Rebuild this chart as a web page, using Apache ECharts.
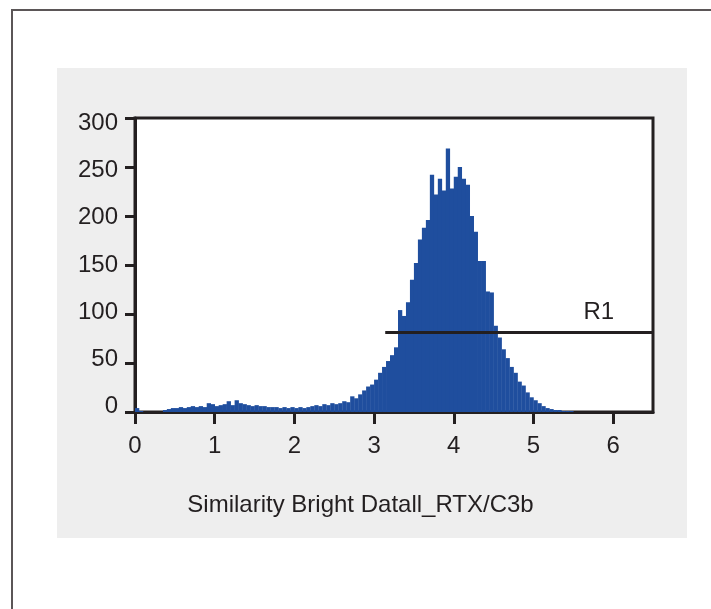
<!DOCTYPE html>
<html>
<head>
<meta charset="utf-8">
<title>Similarity Bright Datall_RTX/C3b histogram</title>
<script src="https://cdn.jsdelivr.net/npm/echarts@6/dist/echarts.min.js"></script>
<style>
  html, body { margin: 0; padding: 0; background: #ffffff; }
  #chart { width: 711px; height: 609px; }
</style>
</head>
<body>
<div id="chart"></div>
<script>
// Histogram bins: start of the first bin and width of every bin
const binStart = 0;
const binWidth = 0.05;
// Event counts per bin
const counts = [
  4, 1, 0, 0, 0, 0, 0, 2, 3, 4,
  4, 5, 4, 5, 6, 5, 6, 5, 9, 8,
  6, 7, 8, 11, 7, 12, 9, 8, 7, 6,
  7, 6, 6, 5, 5, 5, 4, 5, 4, 5,
  4, 5, 4, 5, 6, 7, 6, 8, 7, 9,
  8, 9, 11, 10, 16, 14, 18, 22, 26, 28,
  33, 40, 46, 52, 58, 66, 104, 98, 112, 135,
  152, 176, 188, 196, 242, 222, 238, 226, 269, 228,
  240, 250, 238, 232, 200, 184, 154, 154, 123, 122,
  88, 76, 64, 55, 46, 40, 31, 27, 20, 15,
  12, 9, 6, 4, 3, 2, 2, 1, 1, 1,
  0
];
// Axis ticks
const xTicks = [0, 1, 2, 3, 4, 5, 6];
const yTicks = [0, 50, 100, 150, 200, 250, 300];
// Gate R1
const gateName = 'R1';
const gateFrom = 3.14;
const gateTo = 6.5;
const gateLevel = 81;
const gateLabelX = 5.82;

const xTitle = 'Similarity Bright Datall_RTX/C3b';

const ink = '#231f20';
const barBlue = '#1f4e9e';
const font = "'Liberation Sans', Arial, sans-serif";

const histData = counts.map((c, i) => [binStart + i * binWidth, c]);

// Tick labels on the y axis sit a little closer together than the ticks
const yRich = {};
yTicks.forEach(v => {
  const off = (v - 150) / 150 * 5.5;
  yRich['t' + v] = {
    fontSize: 24, fontFamily: font, color: ink,
    padding: off >= 0 ? [2 * off, 0, 0, 0] : [0, 0, -2 * off, 0]
  };
});

const chart = echarts.init(document.getElementById('chart'), null, { renderer: 'canvas' });

chart.setOption({
  animation: false,
  backgroundColor: '#ffffff',
  graphic: [
    { type: 'rect', z: -10, silent: true,
      shape: { x: 57, y: 68, width: 630, height: 470 },
      style: { fill: '#eeeeee' } },
    { type: 'polyline', z: -10, silent: true,
      shape: { points: [[12, 609], [12, 10], [711, 10]] },
      style: { stroke: '#5b5657', lineWidth: 2, fill: null } }
  ],
  grid: {
    left: 135, right: 58, top: 118, bottom: 197,
    show: true, backgroundColor: '#ffffff',
    borderColor: ink, borderWidth: 3
  },
  xAxis: {
    type: 'value', min: 0, max: 6.5, interval: 1,
    splitLine: { show: false },
    axisLine: { show: true, onZero: false, lineStyle: { color: ink, width: 3 } },
    axisTick: { show: true, inside: false, length: 12, customValues: xTicks,
      lineStyle: { color: ink, width: 3 } },
    axisLabel: { customValues: xTicks, margin: 22, fontSize: 24, fontFamily: font, color: ink },
    name: xTitle, nameLocation: 'middle', nameGap: 81,
    nameTextStyle: { fontSize: 24, fontFamily: font, color: ink, padding: [0, 67, 0, 0] }
  },
  yAxis: {
    type: 'value', min: 0, max: 300, interval: 50,
    splitLine: { show: false },
    axisLine: { show: true, onZero: false, lineStyle: { color: ink, width: 3 } },
    axisTick: { show: true, inside: false, length: 10, lineStyle: { color: ink, width: 3 } },
    axisLabel: {
      margin: 17,
      formatter: v => '{t' + v + '|' + v + '}',
      rich: yRich
    }
  },
  series: [
    {
      type: 'custom',
      name: 'histogram',
      clip: true,
      encode: { x: 0, y: 1 },
      data: histData,
      renderItem: (params, api) => {
        const x0 = api.value(0);
        const y = api.value(1);
        const p0 = api.coord([x0, 0]);
        const p1 = api.coord([x0 + binWidth, y]);
        return {
          type: 'rect',
          shape: { x: p0[0], y: p1[1], width: p1[0] - p0[0] + 0.3, height: p0[1] - p1[1] },
          style: { fill: barBlue }
        };
      }
    },
    {
      type: 'line',
      name: 'gate',
      data: [[gateFrom, gateLevel], [gateTo, gateLevel]],
      showSymbol: false,
      symbol: 'none',
      lineStyle: { color: ink, width: 3 },
      z: 5
    },
    {
      type: 'scatter',
      name: 'gate label',
      data: [[gateLabelX, gateLevel]],
      symbolSize: 0,
      itemStyle: { opacity: 1, color: 'rgba(0,0,0,0)' },
      label: {
        show: true, position: 'top', distance: 8,
        formatter: gateName,
        fontSize: 24, fontFamily: font, color: ink
      },
      z: 6
    }
  ]
});
</script>
</body>
</html>
